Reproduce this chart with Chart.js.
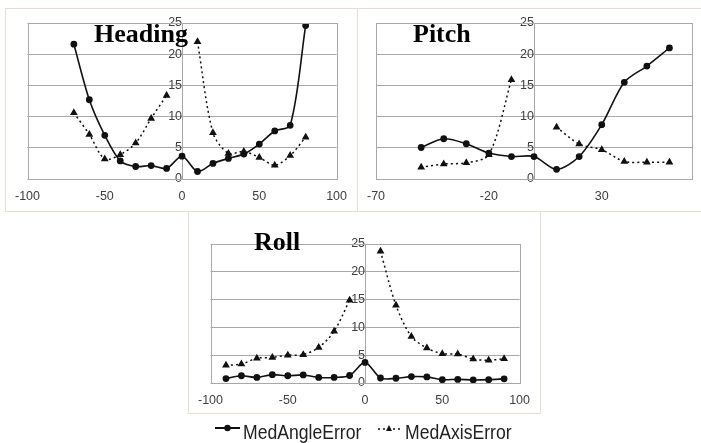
<!DOCTYPE html>
<html>
<head>
<meta charset="utf-8">
<script src="https://cdn.jsdelivr.net/npm/chart.js@4.4.1/dist/chart.umd.min.js"></script>
<style>
  body { margin: 0; background: #fff; width: 701px; height: 443px; position: relative; overflow: hidden; font-family: "Liberation Sans", Arial, sans-serif; }
  .box { position: absolute; }
  .box canvas { position: absolute; left: 0; top: 0; }
  .frame { position: absolute; border: 1px solid #e8dcd4; box-sizing: border-box; pointer-events: none; }
  .ttl { position: absolute; font-family: "Liberation Serif", "Times New Roman", serif; font-weight: bold; font-size: 26px; line-height: 26px; color: #000; }
  .lg { position: absolute; font-size: 20px; line-height: 20px; color: #222; white-space: nowrap; transform-origin: 0 0; transform: scaleX(0.88); }
  .mk { position: absolute; }
</style>
</head>
<body>
<div class="box" id="bHeading" style="left:5px;top:8px;width:352px;height:203px"><canvas id="cHeading"></canvas></div>
<div class="box" id="bPitch" style="left:357px;top:8px;width:345px;height:203px"><canvas id="cPitch"></canvas></div>
<div class="box" id="bRoll" style="left:188px;top:212px;width:352px;height:201px"><canvas id="cRoll"></canvas></div>
<div class="frame" style="left:5px;top:8px;width:353px;height:204px"></div>
<div class="frame" style="left:357px;top:8px;width:346px;height:204px"></div>
<div class="frame" style="left:188px;top:211px;width:353px;height:203px"></div>
<div class="ttl" style="left:94px;top:21px">Heading</div>
<div class="ttl" style="left:413px;top:21px">Pitch</div>
<div class="ttl" style="left:254px;top:229px">Roll</div>

<svg class="mk" style="left:215px;top:422px" width="25" height="12"><line x1="0" y1="6" x2="25" y2="6" stroke="#111" stroke-width="2"/><circle cx="12.5" cy="6" r="3.2" fill="#111"/></svg>
<div class="lg" style="left:243px;top:422px">MedAngleError</div>
<svg class="mk" style="left:378px;top:422px" width="22" height="12"><line x1="0" y1="7" x2="22" y2="7" stroke="#111" stroke-width="1.5" stroke-dasharray="2,3"/><polygon points="11,3 14,9 8,9" fill="#111"/></svg>
<div class="lg" style="left:405px;top:422px">MedAxisError</div>

<script>
// angles (x) and median errors (y)
const headingX = [-70, -60, -50, -40, -30, -20, -10, 0, 10, 20, 30, 40, 50, 60, 70, 80];
const headingAngle = [21.6, 12.7, 7.0, 2.9, 2.0, 2.15, 1.7, 3.65, 1.2, 2.5, 3.3, 4.0, 5.6, 7.7, 8.6, 24.6];
const headingAxis = [10.6, 7.15, 3.2, 3.9, 5.75, 9.7, 13.4, null, 22.0, 7.4, 4.1, 4.4, 3.45, 2.2, 3.75, 6.7];

const pitchX = [-50, -40, -30, -20, -10, 0, 10, 20, 30, 40, 50, 60];
const pitchAngle = [5.05, 6.45, 5.65, 4.15, 3.6, 3.6, 1.55, 3.6, 8.7, 15.5, 18.1, 21.0];
const pitchAxis = [1.9, 2.4, 2.6, 3.9, 15.9, null, 8.3, 5.6, 4.7, 2.8, 2.7, 2.7];

const rollX = [-90, -80, -70, -60, -50, -40, -30, -20, -10, 0, 10, 20, 30, 40, 50, 60, 70, 80, 90];
const rollAngle = [0.8, 1.3, 1.0, 1.5, 1.3, 1.45, 1.0, 1.0, 1.35, 3.7, 0.9, 0.85, 1.15, 1.1, 0.6, 0.65, 0.55, 0.6, 0.75];
const rollAxis = [3.2, 3.4, 4.45, 4.6, 5.0, 5.1, 6.4, 9.3, 14.9, null, 23.7, 14.0, 8.35, 6.3, 5.25, 5.2, 4.3, 4.1, 4.35];

const headingTicks = [-100, -50, 0, 50, 100];
const pitchTicks = [-70, -20, 30];
const rollTicks = [-100, -50, 0, 50, 100];
const yTicks = [0, 5, 10, 15, 20, 25];

const toPts = (xs, ys) => xs.map((x, i) => ({ x: x, y: ys[i] }));

// plot area frame like the spreadsheet original
const frameArea = {
    id: 'frameArea',
    afterDraw(chart) {
        const a = chart.chartArea;
        const ctx = chart.ctx;
        ctx.save();
        ctx.strokeStyle = '#a8a8a8';
        ctx.lineWidth = 1;
        ctx.strokeRect(Math.round(a.left) + 0.5, Math.round(a.top) + 0.5, Math.round(a.right - a.left), Math.round(a.bottom - a.top));
        ctx.restore();
    }
};

function makeChart(id, xs, angle, axis, xMin, xMax, xTicks, pad) {
    const ctx = document.getElementById(id).getContext('2d');
    return new Chart(ctx, {
        type: 'line',
        data: {
            datasets: [
                {
                    label: 'MedAngleError',
                    data: toPts(xs, angle),
                    borderColor: '#111',
                    backgroundColor: '#111',
                    borderWidth: 1.6,
                    pointStyle: 'circle',
                    pointRadius: 2.6,
                    tension: 0.3
                },
                {
                    label: 'MedAxisError',
                    data: toPts(xs, axis),
                    borderColor: '#111',
                    backgroundColor: '#111',
                    borderWidth: 1.5,
                    borderDash: [2, 3],
                    pointStyle: 'triangle',
                    pointRadius: 3,
                    spanGaps: false,
                    tension: 0.3
                }
            ]
        },
        options: {
            responsive: false,
            animation: false,
            devicePixelRatio: 1,
            layout: { padding: pad },
            plugins: { legend: { display: false }, tooltip: { enabled: false } },
            scales: {
                x: {
                    type: 'linear',
                    min: xMin,
                    max: xMax,
                    afterBuildTicks: function (s) { s.ticks = xTicks.map(v => ({ value: v })); },
                    afterFit: function (s) { s.height = 22; },
                    grid: { display: false, drawTicks: false },
                    border: { display: false },
                    ticks: { padding: 10, color: '#404040', font: { family: 'Liberation Sans', size: 12.5 }, maxRotation: 0, autoSkip: false }
                },
                y: {
                    min: 0,
                    max: 25,
                    position: { x: 0 },
                    afterBuildTicks: function (s) { s.ticks = yTicks.map(v => ({ value: v })); },
                    grid: { color: '#a8a8a8', drawTicks: false },
                    border: { display: true, color: '#a8a8a8' },
                    ticks: { padding: 3, color: '#404040', font: { family: 'Liberation Sans', size: 12.5 } }
                }
            }
        },
        plugins: [frameArea]
    });
}

function sizeCanvas(id, w, h) {
    const c = document.getElementById(id);
    c.width = w; c.height = h;
    c.style.width = w + 'px'; c.style.height = h + 'px';
}

sizeCanvas('cHeading', 352, 203);
sizeCanvas('cPitch', 345, 203);
sizeCanvas('cRoll', 352, 201);

makeChart('cHeading', headingX, headingAngle, headingAxis, -100, 100, headingTicks, { left: 20, right: 17, top: 15, bottom: 10 });
makeChart('cPitch', pitchX, pitchAngle, pitchAxis, -70, 70, pitchTicks, { left: 15, right: 10, top: 15, bottom: 10 });
makeChart('cRoll', rollX, rollAngle, rollAxis, -100, 100, rollTicks, { left: 20, right: 18, top: 32, bottom: 8 });
</script>
</body>
</html>
